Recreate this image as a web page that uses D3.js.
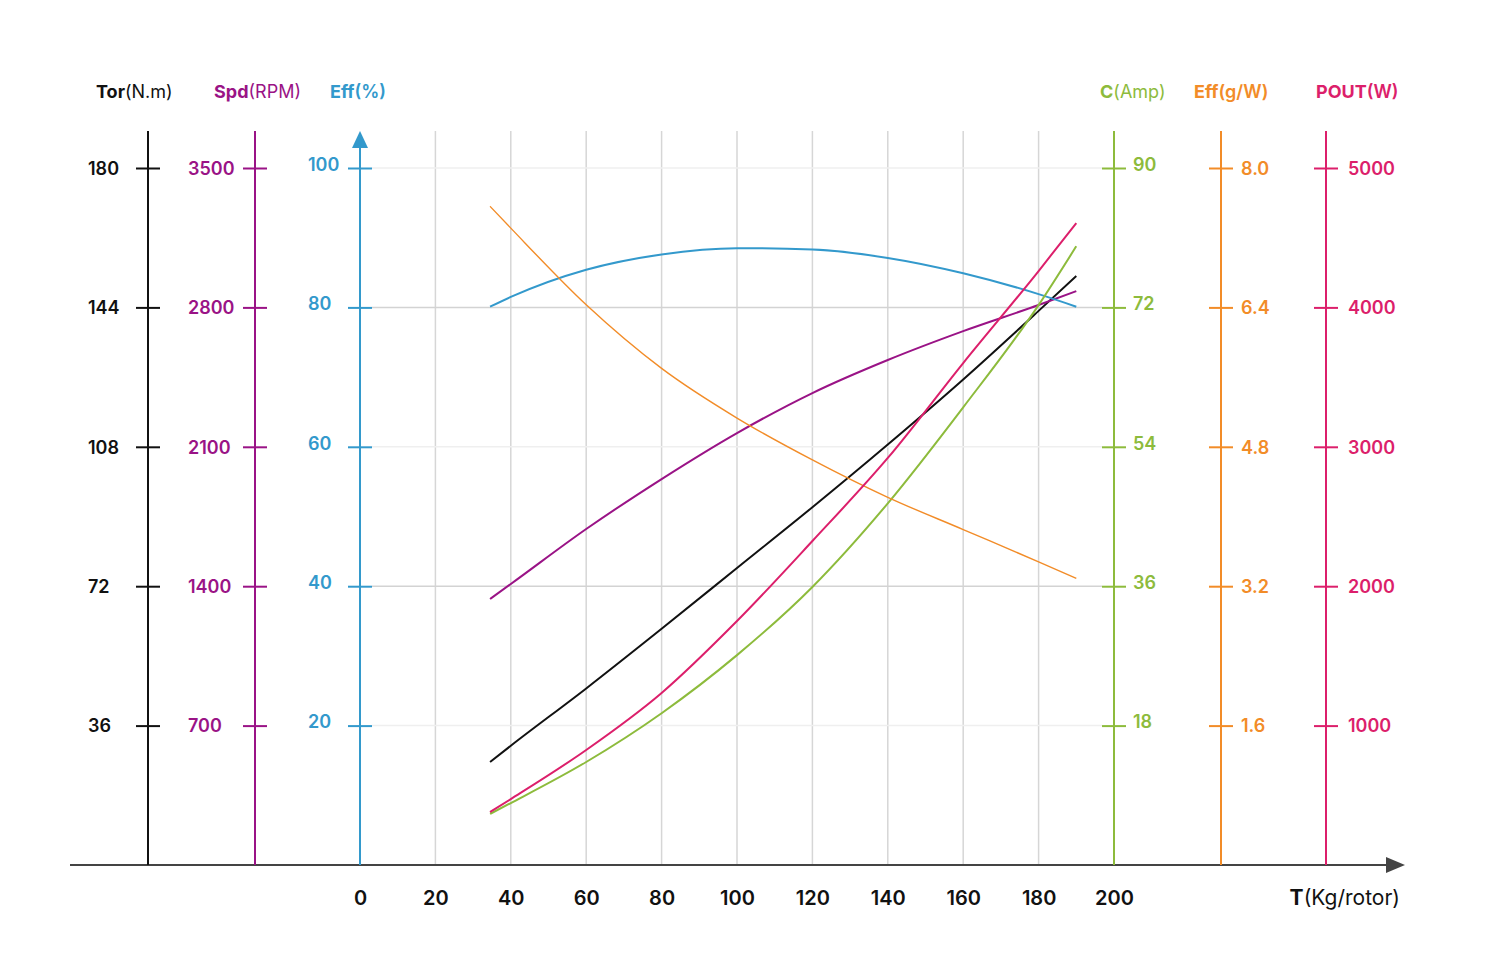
<!DOCTYPE html>
<html>
<head>
<meta charset="utf-8">
<script src="https://cdn.jsdelivr.net/npm/d3@7"></script>
<style>
  body { margin: 0; background: #fff; }
  text { font-family: Inter, "Noto Sans", sans-serif; }
</style>
</head>
<body>
<div id="chart"></div>
<script>
// thrust values (Kg/rotor) where the curves were read
var thrust = [34.5, 40, 60, 80, 100, 120, 140, 160, 180, 190]
var torque = [26.6, 30.8, 45.6, 61.0, 76.7, 92.4, 108.6, 125.4, 143.1, 152.1]
var speed = [1336, 1411, 1687, 1938, 2169, 2370, 2536, 2681, 2812, 2882]
var effPct = [80.1, 81.5, 85.4, 87.6, 88.5, 88.3, 87.1, 84.9, 81.9, 80.1]
var current = [6.6, 8.0, 13.3, 19.6, 27.1, 35.9, 46.7, 59.1, 72.3, 79.9]
var effGW = [7.56, 7.31, 6.43, 5.70, 5.13, 4.65, 4.22, 3.85, 3.48, 3.29]
var power = [380, 473, 825, 1234, 1750, 2324, 2920, 3601, 4261, 4605]

var xTicks = [0, 20, 40, 60, 80, 100, 120, 140, 160, 180, 200]
var torTicks = [36, 72, 108, 144, 180]
var spdTicks = [700, 1400, 2100, 2800, 3500]
var effTicks = [20, 40, 60, 80, 100]
var curTicks = [18, 36, 54, 72, 90]
var gwTicks = [1.6, 3.2, 4.8, 6.4, 8.0]
var powTicks = [1000, 2000, 3000, 4000, 5000]

var width = 1491
var height = 976
var yBottom = 865
var yTop = 168
var axisTop = 131

var svg = d3.select('#chart')
  .append('svg')
  .attr('width', width)
  .attr('height', height)

var x = d3.scaleLinear().domain([0, 200]).range([360, 1114])

function yScale(max) {
  return d3.scaleLinear().domain([0, max]).range([yBottom, yTop])
}

var axes = [
  { name: 'Tor', unit: '(N.m)', color: '#111111', xpos: 148, max: 180, ticks: torTicks, side: 'left', labelDx: -60, labelDy: 0, fmt: d3.format('d'), titleX: 96, values: torque, width: 2 },
  { name: 'Spd', unit: '(RPM)', color: '#9a1386', xpos: 255, max: 3500, ticks: spdTicks, side: 'left', labelDx: -67, labelDy: 0, fmt: d3.format('d'), titleX: 214, values: speed, width: 2 },
  { name: 'Eff', unit: '(%)', color: '#3399cc', xpos: 360, max: 100, ticks: effTicks, side: 'left', labelDx: -52, labelDy: -4, fmt: d3.format('d'), titleX: 330, values: effPct, width: 2, boldUnit: true },
  { name: 'C', unit: '(Amp)', color: '#8dbb3c', xpos: 1114, max: 90, ticks: curTicks, side: 'right', labelDx: 19, labelDy: -4, fmt: d3.format('d'), titleX: 1100, values: current, width: 2 },
  { name: 'Eff', unit: '(g/W)', color: '#f28c28', xpos: 1221, max: 8, ticks: gwTicks, side: 'right', labelDx: 20, labelDy: 0, fmt: d3.format('.1f'), titleX: 1194, values: effGW, width: 1.4, boldUnit: true },
  { name: 'POUT', unit: '(W)', color: '#dc1f6b', xpos: 1326, max: 5000, ticks: powTicks, side: 'right', labelDx: 22, labelDy: 0, fmt: d3.format('d'), titleX: 1316, values: power, width: 2, boldUnit: true }
]

// grid
var effScale = yScale(100)
svg.append('g')
  .selectAll('line')
  .data(xTicks.slice(1, -1))
  .join('line')
  .attr('x1', d => x(d)).attr('x2', d => x(d))
  .attr('y1', axisTop).attr('y2', yBottom)
  .attr('stroke', '#d6d6d6')
  .attr('stroke-width', 1.5)

svg.append('g')
  .selectAll('line')
  .data(effTicks)
  .join('line')
  .attr('x1', 372).attr('x2', 1102)
  .attr('y1', d => effScale(d)).attr('y2', d => effScale(d))
  .attr('stroke', d => (d == 40 || d == 80) ? '#d3d3d3' : '#efefef')
  .attr('stroke-width', 1.5)

// x axis
svg.append('line')
  .attr('x1', 70).attr('x2', 1392)
  .attr('y1', yBottom).attr('y2', yBottom)
  .attr('stroke', '#444').attr('stroke-width', 2)
svg.append('path')
  .attr('d', 'M1386,857 L1405,865 L1386,873 Z')
  .attr('fill', '#444')

var xAxis = svg.append('g')
  .attr('transform', 'translate(0,' + yBottom + ')')
  .call(d3.axisBottom(x).tickValues(xTicks).tickSize(0).tickFormat(d3.format('d')))
xAxis.select('.domain').remove()
xAxis.selectAll('text')
  .attr('dy', 0).attr('y', 40)
  .attr('font-size', 20).attr('font-weight', 600)
  .attr('fill', '#111')
  .style('font-family', 'Inter, "Noto Sans", sans-serif')

var tLabel = svg.append('text')
  .attr('x', 1400).attr('y', 905)
  .attr('text-anchor', 'end')
  .attr('font-size', 21).attr('fill', '#111')
tLabel.append('tspan').attr('font-weight', 700).text('T')
tLabel.append('tspan').attr('font-weight', 400).text('(Kg/rotor)')

// y axes
axes.forEach(function (a) {
  var s = yScale(a.max)
  var ax = a.side == 'left' ? d3.axisLeft(s) : d3.axisRight(s)
  var g = svg.append('g')
    .attr('transform', 'translate(' + a.xpos + ',0)')
    .call(ax.tickValues(a.ticks).tickSize(12).tickFormat(a.fmt))
  g.select('.domain').remove()
  g.append('line')
    .attr('x1', 0).attr('x2', 0)
    .attr('y1', a.name == 'Eff' && a.side == 'left' ? axisTop + 14 : axisTop)
    .attr('y2', yBottom)
    .attr('stroke', a.color).attr('stroke-width', 2)
  g.selectAll('.tick line')
    .attr('x1', -12).attr('x2', 12)
    .attr('stroke', a.color).attr('stroke-width', 2)
  g.selectAll('.tick text')
    .attr('x', a.labelDx)
    .attr('dy', '0.35em')
    .attr('y', a.labelDy)
    .attr('text-anchor', 'start')
    .attr('font-size', 18).attr('font-weight', 600)
    .attr('fill', a.color)
    .style('font-family', 'Inter, "Noto Sans", sans-serif')

  var t = svg.append('text')
    .attr('x', a.titleX).attr('y', 98)
    .attr('font-size', 18).attr('fill', a.color)
  t.append('tspan').attr('font-weight', 700).text(a.name)
  t.append('tspan').attr('font-weight', a.boldUnit ? 600 : 400).text(a.unit)

  // curve
  var line = d3.line()
    .x((d, i) => x(thrust[i]))
    .y(d => s(d))
    .curve(d3.curveMonotoneX)
  svg.append('path')
    .datum(a.values)
    .attr('d', line)
    .attr('fill', 'none')
    .attr('stroke', a.color)
    .attr('stroke-width', a.width)
})

// arrow head on Eff(%) axis
svg.append('path')
  .attr('d', 'M352,148 L360,131 L368,148 Z')
  .attr('fill', '#3399cc')
</script>
</body>
</html>
